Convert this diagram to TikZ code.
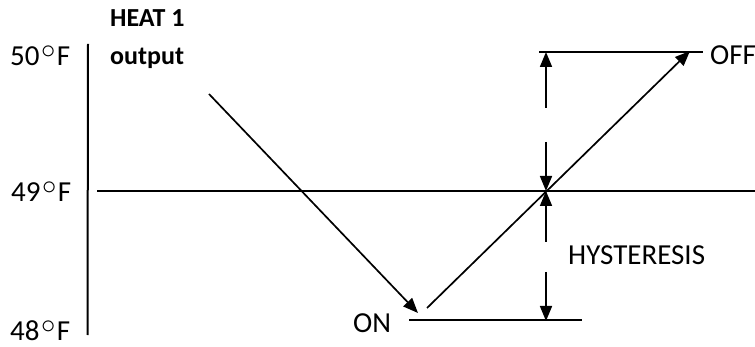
\documentclass[tikz,border=0pt]{standalone}
\usepackage{fontspec}
\setmainfont{Carlito}
\usetikzlibrary{arrows.meta}
\newcommand{\degF}{\kern1.5pt\raisebox{0.26em}{\scalebox{1.15}{$\circ$}}\kern1.5pt F}
\begin{document}
\begin{tikzpicture}[x=1pt,y=-1pt,
  lbl/.style={inner sep=0pt,font=\fontsize{29}{32}\selectfont},
  blbl/.style={inner sep=0pt,font=\fontsize{26}{30}\selectfont\bfseries},
  ln/.style={line width=2pt},
  arr/.style={line width=1.7pt,-{Triangle[length=15pt,width=12pt]}},
]
\useasboundingbox (0,0) rectangle (755,347);
% axis
\coordinate (axT) at (88,44);
\coordinate (axB) at (87.5,335);
\draw[ln] (axT) -- (axB);
% level lines
\coordinate (midL) at (97,191);
\coordinate (midR) at (755,191);
\draw[ln] (midL) -- (midR);
\coordinate (offL) at (539,52);
\coordinate (offR) at (703,52);
\draw[ln] (offL) -- (offR);
\coordinate (onL) at (409,320);
\coordinate (onR) at (582,320);
\draw[ln] (onL) -- (onR);
% labels
\node[lbl,anchor=base west] (t50) at (10,66) {50\degF};
\node[lbl,anchor=base west] (t49) at (11,202) {49\degF};
\node[lbl,anchor=base west] (t48) at (10,341) {48\degF};
\node[blbl,anchor=base west] (heat) at (110,27) {HEAT 1};
\node[blbl,anchor=base west] (outp) at (110,65) {output};
\node[lbl,anchor=base west] (off) at (710,65) {OFF};
\node[lbl,anchor=base west] (on) at (353,332) {ON};
\node[lbl,anchor=base west] (hys) at (568,265) {HYSTERESIS};
% falling and rising arrows
\coordinate (fallS) at (209,94);
\coordinate (fallE) at (418,313);
\draw[arr] (fallS) -- (fallE);
\coordinate (riseS) at (427,308);
\coordinate (riseE) at (690,51);
\draw[arr] (riseS) -- (riseE);
% hysteresis dimension arrows
\coordinate (d1) at (546,52);
\coordinate (d2) at (546,108);
\coordinate (d3) at (546,142);
\coordinate (d4) at (546,191);
\coordinate (d5) at (546,242);
\coordinate (d6) at (546,272);
\coordinate (d7) at (546,321);
\draw[arr] (d2) -- (d1);
\draw[arr] (d3) -- (d4);
\draw[arr] (d5) -- (d4);
\draw[arr] (d6) -- (d7);
\end{tikzpicture}
\end{document}
